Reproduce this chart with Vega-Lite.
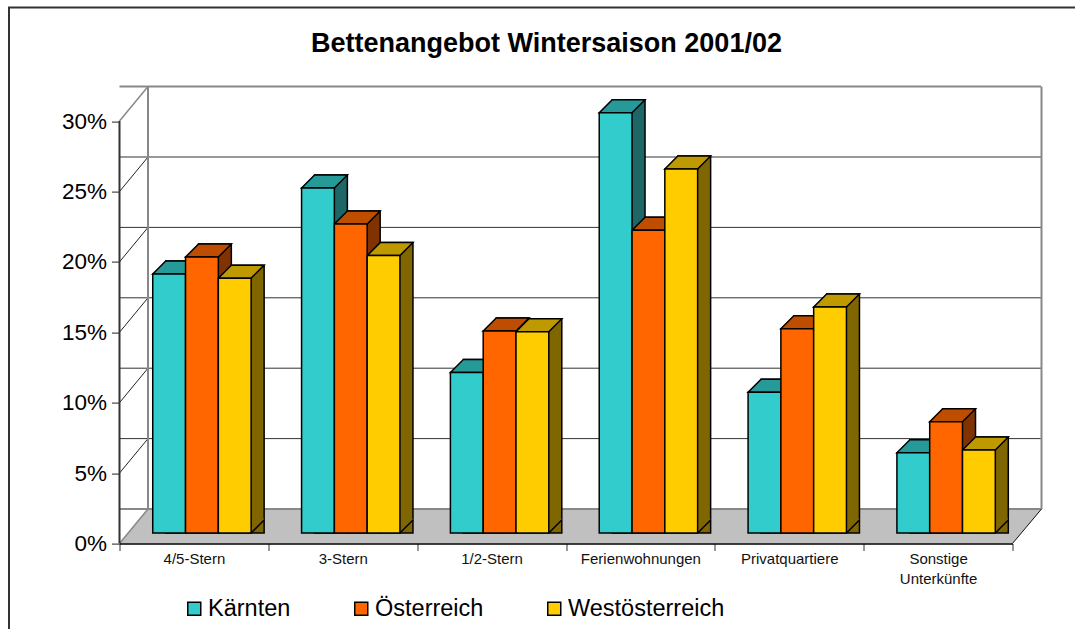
{
"$schema":"https://vega.github.io/schema/vega-lite/v6.json",
"width":893,"height":422.4,
"autosize":"none",
"padding":{"left":119.5,"top":110.6,"right":62.5,"bottom":96},
"background":"white",
"config":{"view":{"stroke":null},"font":"Liberation Sans"},
"title":{"text":"Bettenangebot Wintersaison 2001/02","font":"Liberation Sans","fontSize":27,"fontWeight":"bold","color":"black","anchor":"middle","dx":-19.5,"offset":-54},
"datasets":{
"bars":[
{"category":"4/5-Stern","series":"Kärnten","value":18.4},
{"category":"4/5-Stern","series":"Österreich","value":19.6},
{"category":"4/5-Stern","series":"Westösterreich","value":18.1},
{"category":"3-Stern","series":"Kärnten","value":24.5},
{"category":"3-Stern","series":"Österreich","value":21.95},
{"category":"3-Stern","series":"Westösterreich","value":19.7},
{"category":"1/2-Stern","series":"Kärnten","value":11.4},
{"category":"1/2-Stern","series":"Österreich","value":14.35},
{"category":"1/2-Stern","series":"Westösterreich","value":14.3},
{"category":"Ferienwohnungen","series":"Kärnten","value":29.85},
{"category":"Ferienwohnungen","series":"Österreich","value":21.5},
{"category":"Ferienwohnungen","series":"Westösterreich","value":25.85},
{"category":"Privatquartiere","series":"Kärnten","value":10.0},
{"category":"Privatquartiere","series":"Österreich","value":14.5},
{"category":"Privatquartiere","series":"Westösterreich","value":16.05},
{"category":"Sonstige Unterkünfte","series":"Kärnten","value":5.7},
{"category":"Sonstige Unterkünfte","series":"Österreich","value":7.9},
{"category":"Sonstige Unterkünfte","series":"Westösterreich","value":5.9}
],
"ticks":[{"v":0},{"v":5},{"v":10},{"v":15},{"v":20},{"v":25},{"v":30}],
"base":[{"v":0}]
},
"resolve":{"scale":{"color":"independent","xOffset":"independent"}},
"layer":[
{"data":{"name":"base"},
 "mark":{"type":"point","shape":"M-557,-525.5L514,-525.5L514,107L-557,107Z","size":4,"filled":false,"opacity":1,"stroke":"#333333","strokeWidth":2},
 "encoding":{"y":{"field":"v","type":"quantitative","scale":{"domain":[0,30]},
   "axis":{"title":null,"values":[0,5,10,15,20,25,30],"labelExpr":"datum.value+'%'","labelFontSize":22.5,"labelColor":"black","labelFont":"Liberation Sans","labelOffset":0,"tickOffset":10.5,"tickSize":8,"tickColor":"#222222","domain":false,"grid":false,"labelPadding":5}}}},
{"data":{"name":"base"},
 "mark":{"type":"point","shape":"M-446.5,10.5L-418,-24L475.5,-24L446.5,10.5Z","size":4,"filled":true,"opacity":1,"fill":"#C0C0C0","stroke":null},
 "encoding":{"y":{"field":"v","type":"quantitative"}}},
{"data":{"name":"ticks"},
 "mark":{"type":"rule","xOffset":28.5,"yOffset":-24},
 "encoding":{"y":{"field":"v","type":"quantitative"},
  "stroke":{"condition":{"test":"datum.v==30||datum.v==0","value":"#888888"},"value":"#333333"},
  "strokeWidth":{"condition":{"test":"datum.v==30||datum.v==0","value":2},"value":1}}},
{"data":{"name":"ticks"},
 "mark":{"type":"point","shape":"M-446.5,10.5L-418,-24","size":4,"filled":false,"opacity":1},
 "encoding":{"y":{"field":"v","type":"quantitative"},
  "stroke":{"condition":{"test":"datum.v==30||datum.v==0","value":"#888888"},"value":"#222222"},
  "strokeWidth":{"condition":{"test":"datum.v==30||datum.v==0","value":1.5},"value":1}}},
{"data":{"name":"base"},
 "mark":{"type":"point","shape":"M-418,-24L-418,-446.4M475.5,-24L475.5,-446.4","size":4,"filled":false,"opacity":1,"stroke":"#888888","strokeWidth":2},
 "encoding":{"y":{"field":"v","type":"quantitative"}}},
{"data":{"name":"base"},
 "mark":{"type":"point","shape":"M-446.5,10.5L-446.5,-411.9","size":4,"filled":false,"opacity":1,"stroke":"#333333","strokeWidth":2},
 "encoding":{"y":{"field":"v","type":"quantitative"}}},
{"data":{"name":"base"},
 "mark":{"type":"point","shape":"M446.5,10.5L475.5,-24","size":4,"filled":false,"opacity":1,"stroke":"#111111","strokeWidth":1},
 "encoding":{"y":{"field":"v","type":"quantitative"}}},
{"data":{"name":"bars"},
 "mark":{"type":"bar","yOffset":-13,"stroke":"black","strokeWidth":1.5},
 "encoding":{
  "x":{"field":"category","type":"nominal","sort":null,"scale":{"paddingInner":0,"paddingOuter":0}},
  "xOffset":{"field":"series","type":"nominal","sort":["Kärnten","Österreich","Westösterreich"],"scale":{"type":"band","paddingOuter":0.769,"paddingInner":0,"align":0.9167}},
  "y":{"field":"value","type":"quantitative","stack":null},
  "color":{"field":"series","type":"nominal","legend":null,"scale":{"domain":["Kärnten","Österreich","Westösterreich"],"range":["#1F6666","#803300","#806600"]}}}},
{"data":{"name":"bars"},
 "mark":{"type":"point","shape":"M16.4,0L29.4,-13L28.6,-15L16.4,-15Z","size":4,"filled":true,"opacity":1,"stroke":null},
 "encoding":{
  "x":{"field":"category","type":"nominal","sort":null},
  "xOffset":{"field":"series","type":"nominal","sort":["Kärnten","Österreich","Westösterreich"],"scale":{"type":"band","paddingOuter":0.769,"paddingInner":0,"align":0.659}},
  "y":{"datum":0},
  "color":{"field":"series","type":"nominal","legend":null,"scale":{"domain":["Kärnten","Österreich","Westösterreich"],"range":["#1F6666","#803300","#806600"]}}}},
{"data":{"name":"bars"},
 "mark":{"type":"point","shape":"M16.4,0L29.4,-13","size":4,"filled":false,"opacity":1,"stroke":"black","strokeWidth":1.5},
 "encoding":{
  "x":{"field":"category","type":"nominal","sort":null},
  "xOffset":{"field":"series","type":"nominal","sort":["Kärnten","Österreich","Westösterreich"],"scale":{"type":"band","paddingOuter":0.769,"paddingInner":0,"align":0.659}},
  "y":{"datum":0}}},
{"data":{"name":"bars"},
 "mark":{"type":"point","shape":"M-16.4,0L16.4,0L29.4,-13L-3.4,-13Z","size":4,"filled":true,"opacity":1,"stroke":"black","strokeWidth":1.5},
 "encoding":{
  "x":{"field":"category","type":"nominal","sort":null},
  "xOffset":{"field":"series","type":"nominal","sort":["Kärnten","Österreich","Westösterreich"],"scale":{"type":"band","paddingOuter":0.769,"paddingInner":0,"align":0.659}},
  "y":{"field":"value","type":"quantitative"},
  "color":{"field":"series","type":"nominal","legend":null,"scale":{"domain":["Kärnten","Österreich","Westösterreich"],"range":["#269999","#BF4D00","#BF9900"]}}}},
{"data":{"name":"bars"},
 "mark":{"type":"bar","stroke":"black","strokeWidth":1.5},
 "encoding":{
  "x":{"field":"category","type":"nominal","sort":null,
   "axis":{"title":null,"offset":10.5,"tickBand":"extent","labelAngle":0,"labelAlign":"center","labelBaseline":"top","zindex":1,"domainColor":"black","domainWidth":1.5,"tickColor":"#333333","tickSize":7,"labelFontSize":15,"labelColor":"#111111","labelFont":"Liberation Sans","labelPadding":1,"labelLimit":200,"labelLineHeight":20,"labelExpr":"datum.value=='Sonstige Unterkünfte'?['Sonstige','Unterkünfte']:datum.label"}},
  "xOffset":{"field":"series","type":"nominal","sort":["Kärnten","Österreich","Westösterreich"],"scale":{"type":"band","paddingOuter":0.769,"paddingInner":0,"align":0.659}},
  "y":{"field":"value","type":"quantitative","stack":null},
  "color":{"field":"series","type":"nominal","scale":{"domain":["Kärnten","Österreich","Westösterreich"],"range":["#33CCCC","#FF6600","#FFCC00"]},
   "legend":{"title":null,"orient":"none","legendX":63,"legendY":486,"direction":"horizontal","symbolType":"square","symbolSize":169,"symbolStrokeColor":"black","symbolStrokeWidth":1.5,"labelFontSize":23.5,"labelFont":"Liberation Sans","labelColor":"black","labelOffset":2,"columnPadding":59,"labelLimit":300}}}}
]}
